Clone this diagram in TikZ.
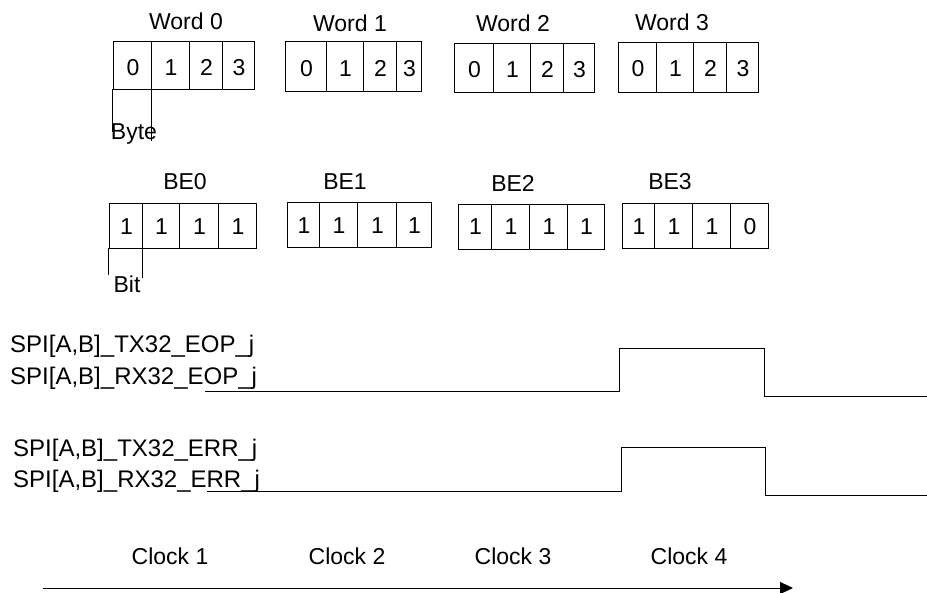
\documentclass[tikz,border=0pt]{standalone}
\usepackage{fontspec}
\setmainfont{Liberation Sans}
\usetikzlibrary{arrows.meta}
\tikzset{
  cell/.style={draw, line width=0.9pt, inner sep=0pt, text height=0pt, text depth=0pt},
  lbl/.style={inner sep=0pt, anchor=base, font=\fontsize{23}{27}\selectfont},
  sig/.style={inner sep=0pt, anchor=base west, font=\fontsize{24}{28}\selectfont},
  wire/.style={line width=0.9pt},
  wave/.style={line width=1pt},
}
\newcommand\regbox[5]{%
  \foreach \a/\b/\v [count=\i] in {#2} {%
    \node[cell, minimum width={(\b-\a)*1pt}, minimum height={(#4-#3)*1pt}]
      (#1c\i) at ({(\a+\b)/2},{(#3+#4)/2}) {};
    \node[lbl] (#1t\i) at ({(\a+\b)/2+1},#5) {\v};
  }%
}
\begin{document}
\begin{tikzpicture}[x=1pt,y=-1pt]
\useasboundingbox (0,0) rectangle (927,593);

% word labels
\node[lbl] (lw0) at (186,30) {Word 0};
\node[lbl] (lw1) at (350,32) {Word 1};
\node[lbl] (lw2) at (513,32) {Word 2};
\node[lbl] (lw3) at (672,31) {Word 3};

\regbox{w0}{113/151/0,151/189/1,189/222/2,222/254/3}{41}{89}{76}
\regbox{w1}{285/326/0,326/363/1,363/396/2,396/421/3}{41}{91}{77}
\regbox{w2}{454/493/0,493/530/1,530/563/2,563/594/3}{43}{92}{78}
\regbox{w3}{618/656/0,656/693/1,693/726/2,726/758/3}{42}{92}{77}

\draw[wire] (w0c1.south west) -- ++(0,43) coordinate (byA);
\draw[wire] (w0c1.south east) -- ++(0,52) coordinate (byB);
\node[lbl] (byte) at (134,140) {Byte};

% BE labels
\node[lbl] (lb0) at (185,190) {BE0};
\node[lbl] (lb1) at (345,190) {BE1};
\node[lbl] (lb2) at (513,192) {BE2};
\node[lbl] (lb3) at (670,190) {BE3};

\regbox{b0}{109/142/1,142/179/1,179/218/1,218/256/1}{203}{248}{235}
\regbox{b1}{287/319/1,319/357/1,357/396/1,396/431/1}{202}{247}{234}
\regbox{b2}{458/491/1,491/529/1,529/567/1,567/604/1}{204}{249}{235}
\regbox{b3}{622/654/1,654/692/1,692/730/1,730/768/0}{203}{248}{235}

\draw[wire] (b0c1.south west) -- ++(0,27) coordinate (biA);
\draw[wire] (b0c1.south east) -- ++(0,30) coordinate (biB);
\node[lbl] (bit) at (127,293) {Bit};

% signals
\node[sig] (txeop) at (10,353) {SPI[A,B]\_TX32\_EOP\_j};
\node[sig] (rxeop) at (10,385) {SPI[A,B]\_RX32\_EOP\_j};
\node[sig] (txerr) at (13,457) {SPI[A,B]\_TX32\_ERR\_j};
\node[sig] (rxerr) at (13,488) {SPI[A,B]\_RX32\_ERR\_j};

\draw[wave] (205,392) -- (619,392) -- (619,349) -- (764,349) -- (764,397) -- (927,397);
\draw[wave] (207,492) -- (621,492) -- (621,448) -- (765,448) -- (765,496) -- (927,496);

% clocks
\node[lbl] (c1) at (170,565) {Clock 1};
\node[lbl] (c2) at (347,565) {Clock 2};
\node[lbl] (c3) at (513,565) {Clock 3};
\node[lbl] (c4) at (689,565) {Clock 4};

\coordinate (tA) at (43,588);
\coordinate (tB) at (793,588);
\draw[line width=1pt, -{Triangle[length=13pt,width=12pt]}] (tA) -- (tB);
\end{tikzpicture}
\end{document}
